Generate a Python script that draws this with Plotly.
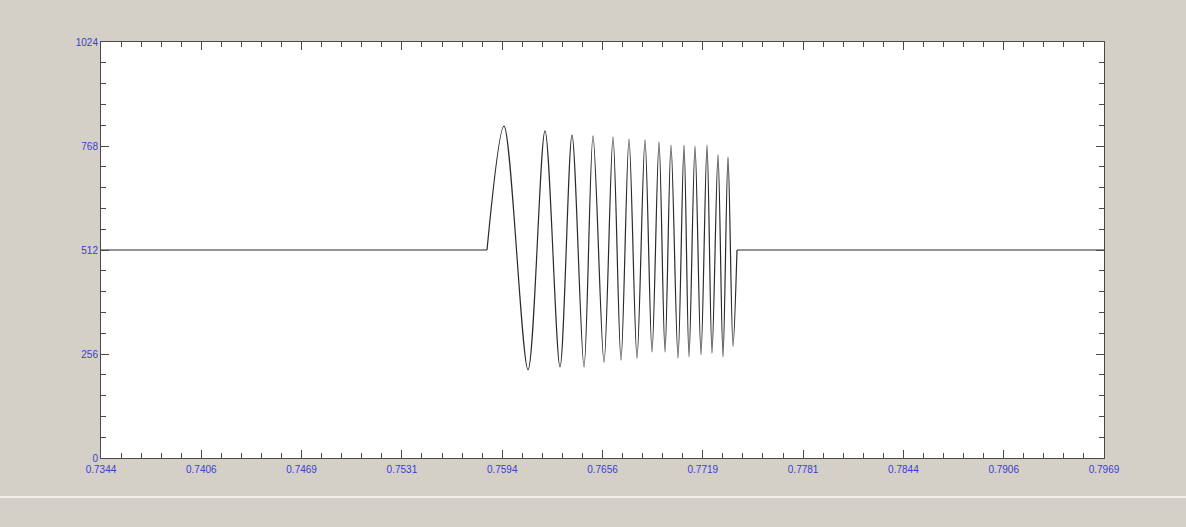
import plotly.graph_objects as go

# Flat baseline before and after the burst
pre_x = [0.734375, 0.758428]
pre_y = [512, 512]
post_x = [0.774006, 0.796875]
post_y = [512, 512]

# Chirp burst: start, alternating extrema, end
burst_x = [0.758428, 0.759487, 0.760983, 0.762042, 0.762977, 0.763725,
           0.764472, 0.765033, 0.765718, 0.766279, 0.766778, 0.767276, 0.767775,
           0.768273, 0.768710, 0.769146, 0.769520, 0.769894, 0.770330, 0.770704,
           0.771015, 0.771389, 0.771763, 0.772137, 0.772448, 0.772822, 0.773134,
           0.773446, 0.773757, 0.774006]
burst_y = [512, 817, 217, 805, 224, 795,
           224, 793, 236, 790, 241, 785, 246,
           783, 261, 778, 261, 770, 246, 770,
           249, 768, 254, 770, 258, 746, 249,
           741, 275, 512]

x_tick_vals = [0.734375, 0.740625, 0.746875, 0.753125, 0.759375, 0.765625,
               0.771875, 0.778125, 0.784375, 0.790625, 0.796875]
x_tick_text = ["0.7344", "0.7406", "0.7469", "0.7531", "0.7594", "0.7656",
               "0.7719", "0.7781", "0.7844", "0.7906", "0.7969"]
y_tick_vals = [0, 256, 512, 768, 1024]
y_tick_text = ["0", "256", "512", "768", "1024"]

label_font = dict(family="Liberation Sans, Arial, sans-serif", size=10, color="#3b3bd6")
line_color = "#2a2a2a"

fig = go.Figure()
fig.add_trace(go.Scatter(x=pre_x, y=pre_y, mode="lines",
                         line=dict(color=line_color, width=1.2),
                         hoverinfo="skip", showlegend=False))
fig.add_trace(go.Scatter(x=burst_x, y=burst_y, mode="lines",
                         line=dict(color=line_color, width=1.2, shape="spline", smoothing=0.9),
                         hoverinfo="skip", showlegend=False))
fig.add_trace(go.Scatter(x=post_x, y=post_y, mode="lines",
                         line=dict(color=line_color, width=1.2),
                         hoverinfo="skip", showlegend=False))

axis_common = dict(
    showgrid=False, zeroline=False, showline=True, linecolor="#4a4a4a", linewidth=1,
    mirror="ticks", ticks="inside", ticklen=8, tickwidth=1, tickcolor="#4a4a4a",
    tickfont=label_font, fixedrange=True,
)

fig.update_xaxes(
    range=[0.734375, 0.796875], tickmode="array", tickvals=x_tick_vals, ticktext=x_tick_text,
    minor=dict(ticks="inside", ticklen=5, tickwidth=1, tickcolor="#4a4a4a",
               tick0=0.734375, dtick=0.00125),
    ticklabelstandoff=2,
    **axis_common,
)
fig.update_yaxes(
    range=[0, 1024], tickmode="array", tickvals=y_tick_vals, ticktext=y_tick_text,
    minor=dict(ticks="inside", ticklen=5, tickwidth=1, tickcolor="#4a4a4a",
               tick0=0, dtick=51.2),
    ticklabelstandoff=0,
    **axis_common,
)

# status-bar separator line near the bottom of the window
fig.add_shape(type="line", xref="paper", yref="paper",
              x0=-0.11, x1=1.09, y0=-0.094, y1=-0.094,
              line=dict(color="#f2f0ea", width=2))

fig.update_layout(
    width=1186, height=527,
    margin=dict(l=101, r=82, t=42, b=69),
    paper_bgcolor="#d4d0c8", plot_bgcolor="#ffffff",
)

fig.write_html(
    "out.html",
    config={"displayModeBar": False},
    post_script="document.body.style.margin='0';document.body.style.padding='0';"
                "document.body.style.background='#d4d0c8';",
)
